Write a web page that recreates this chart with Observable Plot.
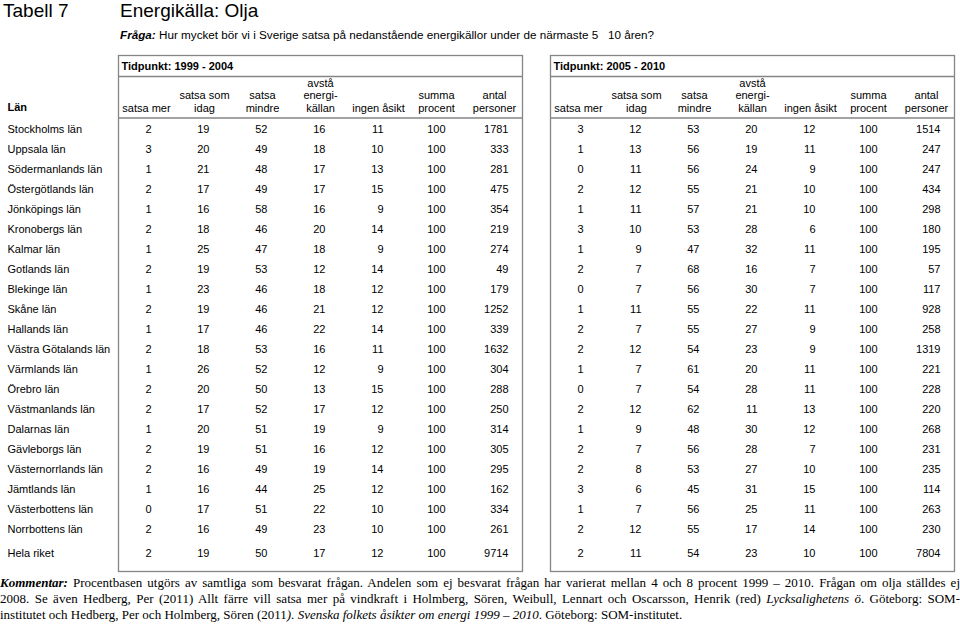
<!DOCTYPE html>
<html><head><meta charset="utf-8">
<script src="https://cdn.jsdelivr.net/npm/d3@7"></script>
<script src="https://cdn.jsdelivr.net/npm/@observablehq/plot@0.6"></script>
<style>
body{margin:0;background:#fff;width:960px;height:636px;position:relative;overflow:hidden;font-family:"Liberation Sans",Arial,sans-serif;color:#000}
#title{position:absolute;top:0;left:3px;font-size:19px;line-height:22px;white-space:nowrap}
#title .t2{position:absolute;left:117px;top:0}
#q{position:absolute;top:28px;left:120px;font-size:11.7px;line-height:14px;white-space:nowrap}
#chart{position:absolute;top:50px;left:0}
#note{position:absolute;top:575px;left:0;width:960px;font-family:"Liberation Serif","Times New Roman",serif;font-size:13px;line-height:16px}
#note div{text-align:justify;text-align-last:justify}
#note div.last{text-align-last:left}
</style></head>
<body>
<div id="title"><span>Tabell 7</span><span class="t2">Energikälla: Olja</span></div>
<div id="q"><b><i>Fråga:</i></b> Hur mycket bör vi i Sverige satsa på nedanstående energikällor under de närmaste 5 &nbsp; 10 åren?</div>
<div id="chart"></div>
<div id="note">
<div><b><i>Kommentar:</i></b> Procentbasen utgörs av samtliga som besvarat frågan. Andelen som ej besvarat frågan har varierat mellan 4 och 8 procent 1999 – 2010. Frågan om olja ställdes ej</div>
<div>2008. Se även Hedberg, Per (2011) Allt färre vill satsa mer på vindkraft i Holmberg, Sören, Weibull, Lennart och Oscarsson, Henrik (red) <i>Lycksalighetens ö</i>. Göteborg: SOM-</div>
<div class="last">institutet och Hedberg, Per och Holmberg, Sören (2011<i>). Svenska folkets åsikter om energi 1999 – 2010</i>. Göteborg: SOM-institutet.</div>
</div>
<script>
const lan = ["Stockholms län","Uppsala län","Södermanlands län","Östergötlands län","Jönköpings län","Kronobergs län","Kalmar län","Gotlands län","Blekinge län","Skåne län","Hallands län","Västra Götalands län","Värmlands län","Örebro län","Västmanlands län","Dalarnas län","Gävleborgs län","Västernorrlands län","Jämtlands län","Västerbottens län","Norrbottens län","Hela riket"];
const columns = ["satsa mer","satsa som\nidag","satsa\nmindre","avstå\nenergi-\nkällan","ingen åsikt","summa\nprocent","antal\npersoner"];
const periods = ["Tidpunkt: 1999 - 2004","Tidpunkt: 2005 - 2010"];

// 1999 - 2004
const p1SatsaMer    = [2,3,1,2,1,2,1,2,1,2,1,2,1,2,2,1,2,2,1,0,2,2];
const p1SatsaSomIdag= [19,20,21,17,16,18,25,19,23,19,17,18,26,20,17,20,19,16,16,17,16,19];
const p1SatsaMindre = [52,49,48,49,58,46,47,53,46,46,46,53,52,50,52,51,51,49,44,51,49,50];
const p1Avsta       = [16,18,17,17,16,20,18,12,18,21,22,16,12,13,17,19,16,19,25,22,23,17];
const p1IngenAsikt  = [11,10,13,15,9,14,9,14,12,12,14,11,9,15,12,9,12,14,12,10,10,12];
const p1Summa       = [100,100,100,100,100,100,100,100,100,100,100,100,100,100,100,100,100,100,100,100,100,100];
const p1Antal       = [1781,333,281,475,354,219,274,49,179,1252,339,1632,304,288,250,314,305,295,162,334,261,9714];

// 2005 - 2010
const p2SatsaMer    = [3,1,0,2,1,3,1,2,0,1,2,2,1,0,2,1,2,2,3,1,2,2];
const p2SatsaSomIdag= [12,13,11,12,11,10,9,7,7,11,7,12,7,7,12,9,7,8,6,7,12,11];
const p2SatsaMindre = [53,56,56,55,57,53,47,68,56,55,55,54,61,54,62,48,56,53,45,56,55,54];
const p2Avsta       = [20,19,24,21,21,28,32,16,30,22,27,23,20,28,11,30,28,27,31,25,17,23];
const p2IngenAsikt  = [12,11,9,10,10,6,11,7,7,11,9,9,11,11,13,12,7,10,15,11,14,10];
const p2Summa       = [100,100,100,100,100,100,100,100,100,100,100,100,100,100,100,100,100,100,100,100,100,100];
const p2Antal       = [1514,247,247,434,298,180,195,57,117,928,258,1319,221,228,220,268,231,235,114,263,230,7804];

const series = [
  [p1SatsaMer,p1SatsaSomIdag,p1SatsaMindre,p1Avsta,p1IngenAsikt,p1Summa,p1Antal],
  [p2SatsaMer,p2SatsaSomIdag,p2SatsaMindre,p2Avsta,p2IngenAsikt,p2Summa,p2Antal]
];

const cells = [];
periods.forEach((p, pi) => columns.forEach((c, ci) => lan.forEach((l, li) =>
  cells.push({period: p, col: c, ci, lan: l, value: series[pi][ci][li]}))));
const headers = [];
periods.forEach(p => columns.forEach(c => headers.push({period: p, col: c})));

const total = "Hela riket";
const lineColor = "#858585";

function numMarks(filter, dx) {
  const base = {fx: "period", x: "col", y: "lan", text: d => String(d.value), textAnchor: "end", dx};
  return [
    Plot.text(cells.filter(d => filter(d) && d.lan !== total), base),
    Plot.text(cells.filter(d => filter(d) && d.lan === total), {...base, dy: 4})
  ];
}

const chart = Plot.plot({
  width: 960,
  height: 523,
  marginTop: 5,
  marginBottom: 2,
  marginLeft: 118,
  marginRight: 5,
  style: {fontFamily: "'Liberation Sans', Arial, sans-serif", fontSize: "11px", color: "#000", background: "#fff"},
  fx: {domain: periods, paddingInner: 0.0647, paddingOuter: 0, axis: null},
  x: {domain: columns, type: "point", padding: 0.46, axis: null},
  y: {domain: lan, type: "point", padding: 0, insetTop: 74, insetBottom: 22, axis: null},
  marks: [
    Plot.frame({stroke: lineColor, strokeWidth: 1.3}),
    Plot.ruleY([lan[0]], {dy: -11.5, stroke: lineColor, strokeWidth: 1.3}),
    Plot.ruleY([lan[0]], {dy: -53, stroke: lineColor, strokeWidth: 1.3}),
    Plot.text(periods, {fx: d => d, text: d => d, frameAnchor: "top-left", lineAnchor: "middle", textAnchor: "start", dx: 3, dy: 11, fontWeight: "bold"}),
    Plot.text(headers, {fx: "period", x: "col", y: () => lan[0], text: "col", lineAnchor: "bottom", dy: -18, lineHeight: 1.13}),
    Plot.text(["Län"], {fx: () => periods[0], y: () => lan[0], text: d => d, frameAnchor: "left", textAnchor: "start", dx: -111, dy: -22, fontWeight: "bold"}),
    Plot.text(lan.filter(d => d !== total), {fx: () => periods[0], y: d => d, text: d => d, frameAnchor: "left", textAnchor: "start", dx: -111}),
    Plot.text([total], {fx: () => periods[0], y: d => d, text: d => d, frameAnchor: "left", textAnchor: "start", dx: -111, dy: 4}),
    ...numMarks(d => d.ci < 5, 5),
    ...numMarks(d => d.ci === 5, 9),
    ...numMarks(d => d.ci === 6, 14)
  ]
});
document.getElementById("chart").append(chart);
</script>
</body></html>
